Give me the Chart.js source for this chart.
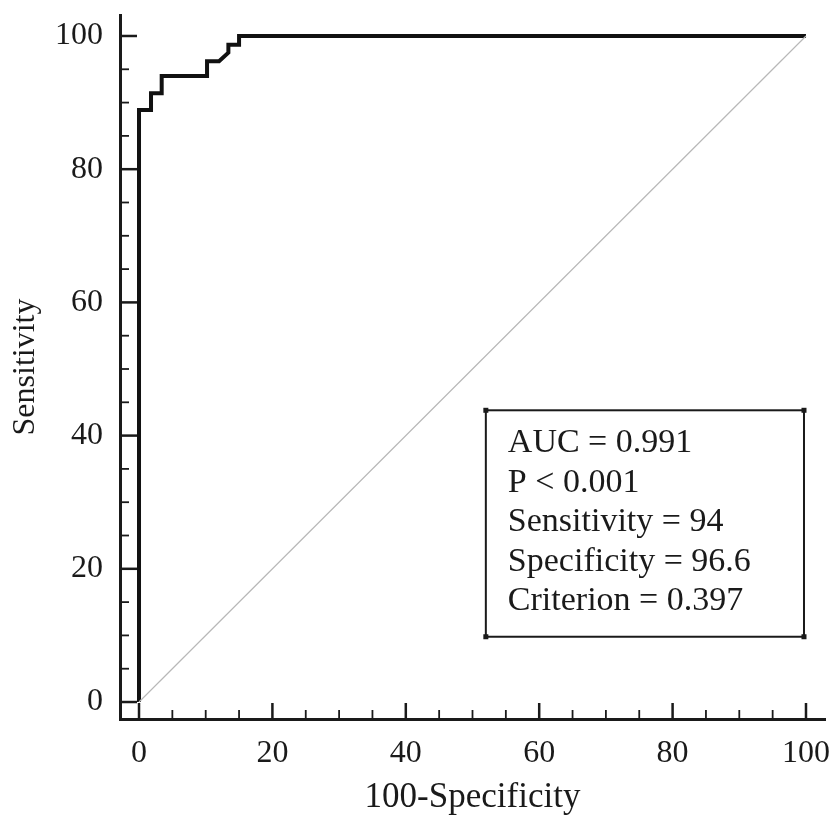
<!DOCTYPE html>
<html>
<head>
<meta charset="utf-8">
<script src="https://cdn.jsdelivr.net/npm/chart.js@4"></script>
<style>
  body { margin: 0; background: #fff; }
  #wrap { width: 834px; height: 819px; }
</style>
</head>
<body>
<div id="wrap"><canvas id="roc"></canvas></div>
<script>
// ROC curve (100-Specificity, Sensitivity)
const fpr  = [0, 0,    1.8,  1.8,  3.4,  3.4, 10.2, 10.2, 12.0, 13.4, 13.4, 15.0, 15.0, 100];
const sens = [0, 88.9, 88.9, 91.4, 91.4, 94.0, 94.0, 96.2, 96.2, 97.5, 98.7, 98.7, 100, 100];
const refX = [0, 100];
const refY = [0, 100];
const tickValues = [0, 20, 40, 60, 80, 100];
const statLines = [
  "AUC = 0.991",
  "P < 0.001",
  "Sensitivity = 94",
  "Specificity = 96.6",
  "Criterion = 0.397"
];

const serif = "'Liberation Serif', 'Times New Roman', serif";
const ink = "#1a1a1a";

// inward tick marks every 5, long ones on the labelled values
const innerTicks = {
  id: "innerTicks",
  afterDatasetsDraw(chart) {
    const { ctx, scales: { x, y }, chartArea } = chart;
    ctx.save();
    ctx.strokeStyle = ink;
    for (let v = 0; v <= 100; v += 5) {
      const major = v % 20 === 0;
      ctx.lineWidth = major ? 2.5 : 1.8;
      const px = x.getPixelForValue(v);
      ctx.beginPath();
      ctx.moveTo(px, chartArea.bottom);
      ctx.lineTo(px, chartArea.bottom - (major ? 16 : 9));
      ctx.stroke();
      const py = y.getPixelForValue(v);
      ctx.beginPath();
      ctx.moveTo(chartArea.left, py);
      ctx.lineTo(chartArea.left + (major ? 17 : 9), py);
      ctx.stroke();
    }
    ctx.restore();
  }
};

// stats box in the lower right
const statsBox = {
  id: "statsBox",
  afterDraw(chart) {
    const { ctx, scales: { x, y } } = chart;
    const x0 = x.getPixelForValue(52), x1 = x.getPixelForValue(99.7);
    const y0 = y.getPixelForValue(43.8), y1 = y.getPixelForValue(9.8);
    ctx.save();
    ctx.strokeStyle = ink;
    ctx.lineWidth = 2;
    ctx.strokeRect(x0, y0, x1 - x0, y1 - y0);
    ctx.fillStyle = ink;
    [[x0, y0], [x1, y0], [x0, y1], [x1, y1]].forEach(([a, b]) => ctx.fillRect(a - 2.5, b - 2.5, 5, 5));
    ctx.font = "34px " + serif;
    ctx.textBaseline = "middle";
    statLines.forEach((t, i) => ctx.fillText(t, x0 + 22, y0 + 33 + i * 39.5));
    ctx.restore();
  }
};

new Chart(document.getElementById("roc"), {
  type: "line",
  data: {
    datasets: [
      {
        label: "reference",
        data: refX.map((v, i) => ({ x: v, y: refY[i] })),
        borderColor: "#b8b8b8",
        borderWidth: 1.2,
        pointRadius: 0
      },
      {
        label: "ROC",
        data: fpr.map((v, i) => ({ x: v, y: sens[i] })),
        borderColor: "#111",
        borderWidth: 4,
        pointRadius: 0,
        tension: 0,
        borderJoinStyle: "miter"
      }
    ]
  },
  options: {
    responsive: true,
    maintainAspectRatio: false,
    animation: false,
    layout: { padding: { top: 15, right: 9, left: 0, bottom: 0 } },
    plugins: {
      legend: { display: false },
      tooltip: { enabled: false }
    },
    scales: {
      x: {
        type: "linear",
        min: -2.85,
        max: 102.85,
        afterBuildTicks: (s) => { s.ticks = tickValues.map(v => ({ value: v })); },
        afterFit: (s) => { s.height = 100; s.paddingLeft = 0; s.paddingRight = 0; },
        grid: { display: false, drawTicks: false },
        border: { display: true, color: ink, width: 3 },
        ticks: { color: ink, padding: 15, maxRotation: 0, font: { family: serif, size: 32 } },
        title: { display: true, text: "100-Specificity", color: ink, padding: 0, font: { family: serif, size: 35 } }
      },
      y: {
        type: "linear",
        min: -2.55,
        max: 103.15,
        afterBuildTicks: (s) => { s.ticks = tickValues.map(v => ({ value: v })); },
        afterFit: (s) => { s.width = 120; s.paddingTop = 0; s.paddingBottom = 0; },
        grid: { display: false, drawTicks: false },
        border: { display: true, color: ink, width: 3 },
        ticks: { color: ink, padding: 17, font: { family: serif, size: 32 } },
        title: { display: true, text: "Sensitivity", color: ink, padding: { top: 6, bottom: 0 }, font: { family: serif, size: 32 } }
      }
    }
  },
  plugins: [innerTicks, statsBox]
});
</script>
</body>
</html>
